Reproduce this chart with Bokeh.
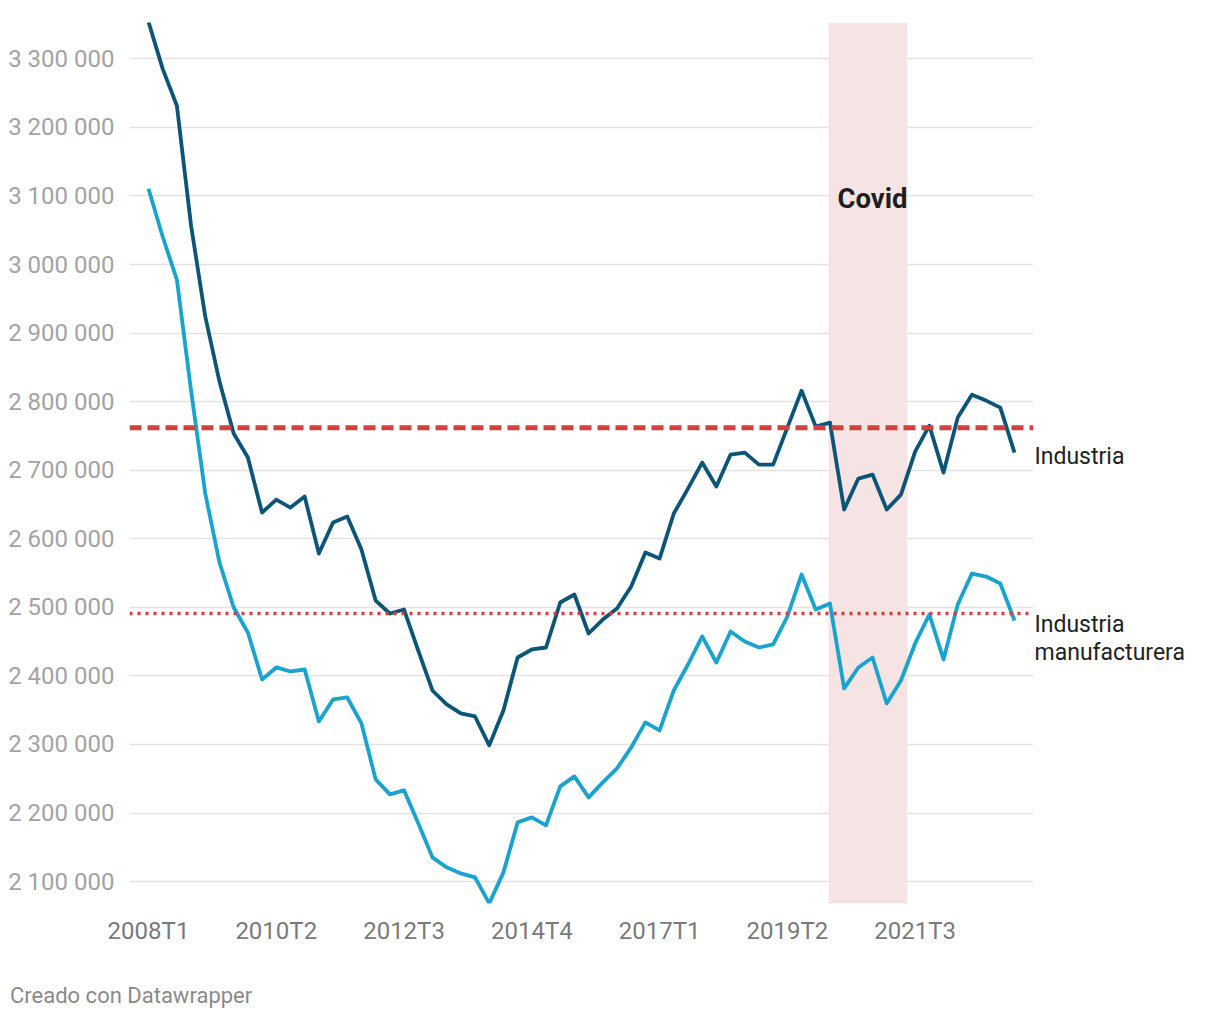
from bokeh.plotting import figure
from bokeh.models import (Range1d, FixedTicker, BoxAnnotation, Span, Label,
                          LinearAxis, Div)
from bokeh.layouts import column
from bokeh.embed import file_html
from bokeh.resources import INLINE

# ---- data ----
quarters = [f"{y}T{q}" for y in range(2008, 2024) for q in range(1, 5)][:62]

industria = [
    3353900, 3285400, 3231500, 3056600, 2923900, 2829200, 2753400, 2718400,
    2638200, 2657200, 2645500, 2661500, 2578400, 2623600, 2632400, 2584300,
    2509900, 2491000, 2496800, 2437000, 2378700, 2358300, 2345200, 2340800,
    2298600, 2349600, 2426800, 2438500, 2441400, 2507000, 2518700, 2461800,
    2482200, 2498300, 2530300, 2579900, 2571100, 2636800, 2673200, 2711100,
    2676100, 2722800, 2725700, 2708200, 2708200, 2762100, 2816000, 2763600,
    2769400, 2642600, 2687800, 2693600, 2642600, 2664400, 2727100, 2765000,
    2696500, 2776700, 2810200, 2801500, 2791300, 2725700,
]

manufacturera = [
    3110500, 3040500, 2977800, 2816000, 2665900, 2565300, 2499700, 2463300,
    2394800, 2412300, 2406400, 2409300, 2333500, 2365600, 2368500, 2330600,
    2249000, 2227100, 2233000, 2184900, 2135300, 2120700, 2111900, 2106100,
    2068200, 2113400, 2186300, 2193600, 2181900, 2238800, 2253400, 2222800,
    2244600, 2265000, 2295700, 2332100, 2320400, 2378700, 2416600, 2457500,
    2419500, 2464700, 2450100, 2441400, 2445800, 2486600, 2547800, 2496800,
    2505600, 2381700, 2412300, 2426800, 2359800, 2393300, 2447300, 2489500,
    2424000, 2504100, 2549300, 2544900, 2534700, 2480800,
]

avg_industria = 2762000
avg_manufacturera = 2491000

covid_start = 47.9
covid_end = 53.45

y_ticks = [2100000, 2200000, 2300000, 2400000, 2500000, 2600000, 2700000,
           2800000, 2900000, 3000000, 3100000, 3200000, 3300000]
x_tick_labels = ["2008T1", "2010T2", "2012T3", "2014T4", "2017T1", "2019T2", "2021T3"]

# series end labels (value positions on the right side)
end_label_pos = [2719800, 2474900, 2434100]
end_label_text = ["Industria", "Industria", "manufacturera"]

# ---- styling ----
FONT = "Roboto"
DARK = "#0a5578"
LIGHT = "#19a3cf"
RED = "#d13f3f"

x = list(range(len(quarters)))

p = figure(width=1212, height=960, output_backend="svg", toolbar_location=None,
           x_range=Range1d(-1.338, 62.338), y_range=Range1d(2068000, 3353000),
           min_border_left=129, min_border_right=179, min_border_top=22,
           min_border_bottom=57)
p.outline_line_color = None
p.background_fill_color = "white"
p.border_fill_color = "white"

# covid band
p.add_layout(BoxAnnotation(left=covid_start, right=covid_end, fill_color="#f6e4e4",
                           fill_alpha=1.0, line_color=None, level="underlay"))

# lines
p.line(x, manufacturera, line_color=LIGHT, line_width=3.8, line_join="round")
p.line(x, industria, line_color=DARK, line_width=3.8, line_join="round")

# average lines
p.add_layout(Span(location=avg_industria, dimension="width", line_color=RED,
                  line_width=5, line_dash="12 6"))
p.add_layout(Span(location=avg_manufacturera, dimension="width", line_color=RED,
                  line_width=3.5, line_dash="3 5"))

# axes
p.yaxis.ticker = FixedTicker(ticks=y_ticks)
p.yaxis.major_label_overrides = {t: f"{t:,}".replace(",", " ") for t in y_ticks}
p.yaxis.axis_line_color = None
p.yaxis.major_tick_line_color = None
p.yaxis.minor_tick_line_color = None
p.yaxis.major_label_standoff = 9
p.yaxis.major_label_text_font = FONT
p.yaxis.major_label_text_font_size = "24px"
p.yaxis.major_label_text_color = "#a3a3a3"

x_tick_pos = [quarters.index(q) for q in x_tick_labels]
p.xaxis.ticker = FixedTicker(ticks=x_tick_pos)
p.xaxis.major_label_overrides = {i: q for i, q in zip(x_tick_pos, x_tick_labels)}
p.xaxis.axis_line_color = None
p.xaxis.major_tick_line_color = None
p.xaxis.minor_tick_line_color = None
p.xaxis.major_label_standoff = 7
p.xaxis.major_label_text_font = FONT
p.xaxis.major_label_text_font_size = "24px"
p.xaxis.major_label_text_color = "#7a7a7a"

# right-side series labels as an axis
ra = LinearAxis(ticker=FixedTicker(ticks=end_label_pos),
                major_label_overrides={v: t for v, t in zip(end_label_pos, end_label_text)})
ra.axis_line_color = None
ra.major_tick_line_color = None
ra.minor_tick_line_color = None
ra.major_tick_in = 0
ra.major_tick_out = 0
ra.major_label_standoff = 1
ra.major_label_text_font = FONT
ra.major_label_text_font_size = "23px"
ra.major_label_text_color = "#222222"
p.add_layout(ra, "right")

p.xgrid.grid_line_color = None
p.ygrid.ticker = FixedTicker(ticks=y_ticks)
p.ygrid.grid_line_color = "#e3e3e3"
p.ygrid.grid_line_width = 1.5

# covid label
p.add_layout(Label(x=51.0, y=3097000, text="Covid", text_font=FONT,
                   text_font_size="27.5px", text_font_style="bold",
                   text_color="#1e1e1e", text_align="center", text_baseline="middle"))

# footer
footer = Div(text="Creado con Datawrapper", width=400, height=24,
             margin=(24, 0, 0, 10),
             styles={"font-family": "Roboto", "font-size": "22px",
                     "line-height": "24px", "color": "#8a8a8a"})

layout = column(p, footer, spacing=0)
open("out.html", "w").write(file_html(layout, INLINE))
